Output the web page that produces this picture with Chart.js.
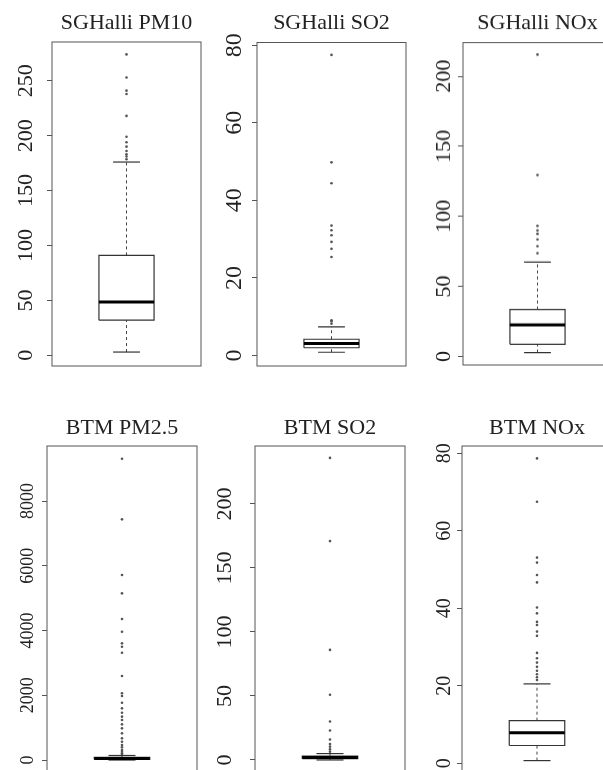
<!DOCTYPE html>
<html>
<head>
<meta charset="utf-8">
<title>Air quality boxplots</title>
<script src="https://cdn.jsdelivr.net/npm/chart.js@4.4.1/dist/chart.umd.min.js"></script>
<style>
  html, body { margin: 0; padding: 0; background: #fff; }
  #wrap { position: relative; width: 603px; height: 770px; overflow: hidden; background: #fff; }
  #wrap canvas { position: absolute; }
</style>
</head>
<body>
<div id="wrap"></div>
<script>
// ---------------------------------------------
// Data
// ---------------------------------------------

const titles = ["SGHalli PM10", "SGHalli SO2", "SGHalli NOx", "BTM PM2.5", "BTM SO2", "BTM NOx"];

const whiskerLow    = [3,    0.85, 2.9,  0,   0, 0.7];
const lowerQuartile = [32,   2,    8.8,  20,  1, 4.6];
const medians       = [48.5, 3.1,  22.6, 45,  2, 7.9];
const upperQuartile = [91,   4.2,  33.6, 80,  3, 11];
const whiskerHigh   = [176,  7.4,  67.4, 140, 5, 20.5];

const outSgPm10 = [274, 253, 241, 238, 218, 199, 194, 190, 186, 183, 181, 178.5];
const outSgSo2  = [77.5, 49.8, 44.4, 33.5, 32.3, 31, 29.3, 27.5, 25.4, 9.1, 8.8, 8.2];
const outSgNox  = [215.5, 129.5, 93.3, 90, 87.6, 83.6, 78.8, 73.8];
const outBtmPm  = [9307, 7434, 5714, 5148, 4355, 3964, 3603, 3500, 3315, 2595, 2060, 1977,
                   1771, 1596, 1462, 1339, 1236, 1101, 978, 823, 669, 566, 463, 391, 309, 257, 206, 154];
const outBtmSo2 = [236, 171, 86, 51, 30, 23, 16, 12.5, 10.4, 8.3, 6.5];
const outBtmNox = [78.7, 67.5, 53.1, 51.8, 48.6, 46.7, 40.2, 38.7, 36.5, 35.7, 34, 32.9,
                   28.5, 27.1, 26, 24.9, 23.9, 23, 22.2, 21.5];

const outliers = [outSgPm10, outSgSo2, outSgNox, outBtmPm, outBtmSo2, outBtmNox];

const ticksSgPm10 = [0, 50, 100, 150, 200, 250];
const ticksSgSo2  = [0, 20, 40, 60, 80];
const ticksSgNox  = [0, 50, 100, 150, 200];
const ticksBtmPm  = [0, 2000, 4000, 6000, 8000];
const ticksBtmSo2 = [0, 50, 100, 150, 200];
const ticksBtmNox = [0, 20, 40, 60, 80];

const yTicks = [ticksSgPm10, ticksSgSo2, ticksSgNox, ticksBtmPm, ticksBtmSo2, ticksBtmNox];

const yMin = [-9.7, -2.7, -6, -370, -9.4, -2.5];
const yMax = [285.3, 80.7, 224, 9699, 245.3, 81.9];

// ---------------------------------------------
// Layout (page pixels of each plot box)
// ---------------------------------------------

const panels = [
  { left: 52,  top: 42,   right: 201, bottom: 366,   rowTop: 0,   tickSize: 22, tickPad: 3.8 },
  { left: 257, top: 42.5, right: 406, bottom: 366,   rowTop: 0,   tickSize: 24, tickPad: 5.5 },
  { left: 463, top: 42.5, right: 612, bottom: 364.5, rowTop: 0,   tickSize: 22, tickPad: -2.5 },
  { left: 47,  top: 446,  right: 197, bottom: 772,   rowTop: 380, tickSize: 18, tickPad: -4.5 },
  { left: 255, top: 446,  right: 405, bottom: 772,   rowTop: 380, tickSize: 22, tickPad: 8.5 },
  { left: 462, top: 446,  right: 612, bottom: 773,   rowTop: 380, tickSize: 20, tickPad: 2.5 }
];

const TITLE_MID = { 0: 23.5, 380: 48.7 };
const AXIS_W = 50;
const BOX_HALF = 0.37;
const CAP_HALF = 0.18;
const SERIF = "'Liberation Serif', 'Times New Roman', serif";

// ---------------------------------------------
// Helpers
// ---------------------------------------------

const framePlugin = {
  id: "frame",
  afterDatasetsDraw(chart) {
    const a = chart.chartArea;
    const ctx = chart.ctx;
    ctx.save();
    ctx.strokeStyle = "#555";
    ctx.lineWidth = 1;
    ctx.strokeRect(a.left, a.top, a.right - a.left, a.bottom - a.top);
    ctx.restore();
  }
};

function segment(points, color, width, dash) {
  return {
    type: "line",
    data: points,
    borderColor: color,
    borderWidth: width,
    borderDash: dash || [],
    pointRadius: 0,
    fill: false,
    tension: 0
  };
}

// fixed axis width, and no extra room for half labels at the ends
function fixAxis(axis) {
  axis.width = AXIS_W;
  axis.paddingTop = 0;
  axis.paddingBottom = 0;
  axis.paddingLeft = 0;
  axis.paddingRight = 0;
}

function buildPanel(i) {
  const p = panels[i];
  const canvas = document.createElement("canvas");
  const w = (p.right - p.left) + AXIS_W * 2;
  const h = p.bottom - p.rowTop + 4;
  canvas.width = w;
  canvas.height = h;
  canvas.style.width = w + "px";
  canvas.style.height = h + "px";
  canvas.style.left = (p.left - AXIS_W) + "px";
  canvas.style.top = p.rowTop + "px";
  document.getElementById("wrap").appendChild(canvas);

  const lo = whiskerLow[i], q1 = lowerQuartile[i], med = medians[i];
  const q3 = upperQuartile[i], hi = whiskerHigh[i];

  const lineH = 22 * 1.2;
  const padTop = TITLE_MID[p.rowTop] - lineH / 2;
  const padBottom = (p.top - p.rowTop) - padTop - lineH;

  new Chart(canvas, {
    data: {
      datasets: [
        segment([{ x: -BOX_HALF, y: med }, { x: BOX_HALF, y: med }], "#000", 3),
        segment([
          { x: -BOX_HALF, y: q1 }, { x: BOX_HALF, y: q1 }, { x: BOX_HALF, y: q3 },
          { x: -BOX_HALF, y: q3 }, { x: -BOX_HALF, y: q1 }
        ], "#333", 1.2),
        segment([{ x: -CAP_HALF, y: hi }, { x: CAP_HALF, y: hi }], "#333", 1.2),
        segment([{ x: -CAP_HALF, y: lo }, { x: CAP_HALF, y: lo }], "#333", 1.2),
        segment([{ x: 0, y: q3 }, { x: 0, y: hi }], "#444", 1, [3, 3]),
        segment([{ x: 0, y: lo }, { x: 0, y: q1 }], "#444", 1, [3, 3]),
        {
          type: "scatter",
          data: outliers[i].map(v => ({ x: 0, y: v })),
          pointRadius: 1.3,
          pointBackgroundColor: "#555",
          pointBorderWidth: 0
        }
      ]
    },
    options: {
      responsive: false,
      animation: false,
      devicePixelRatio: 1,
      events: [],
      layout: { padding: { left: 0, right: 0, top: 0, bottom: 4 } },
      plugins: {
        legend: { display: false },
        tooltip: { enabled: false },
        title: {
          display: true,
          text: titles[i],
          color: "#222",
          font: { family: SERIF, size: 22, weight: "normal", lineHeight: 1.2 },
          padding: { top: padTop, bottom: padBottom }
        }
      },
      scales: {
        x: { type: "linear", min: -1, max: 1, display: false },
        y: {
          type: "linear",
          position: "left",
          min: yMin[i],
          max: yMax[i],
          afterBuildTicks: axis => { axis.ticks = yTicks[i].map(v => ({ value: v })); },
          afterFit: fixAxis,
          border: { display: false },
          grid: { drawOnChartArea: false, drawTicks: true, tickLength: 5, color: "#555", lineWidth: 1 },
          ticks: {
            autoSkip: false,
            minRotation: 90,
            maxRotation: 90,
            crossAlign: "center",
            padding: p.tickPad,
            color: "#222",
            font: { family: SERIF, size: p.tickSize },
            callback: v => String(v)
          }
        },
        yr: {
          type: "linear",
          position: "right",
          display: true,
          afterFit: fixAxis,
          border: { display: false },
          grid: { display: false },
          ticks: { display: false }
        }
      }
    },
    plugins: [framePlugin]
  });
}

// ---------------------------------------------
// Render
// ---------------------------------------------

titles.forEach((t, i) => buildPanel(i));
</script>
</body>
</html>
